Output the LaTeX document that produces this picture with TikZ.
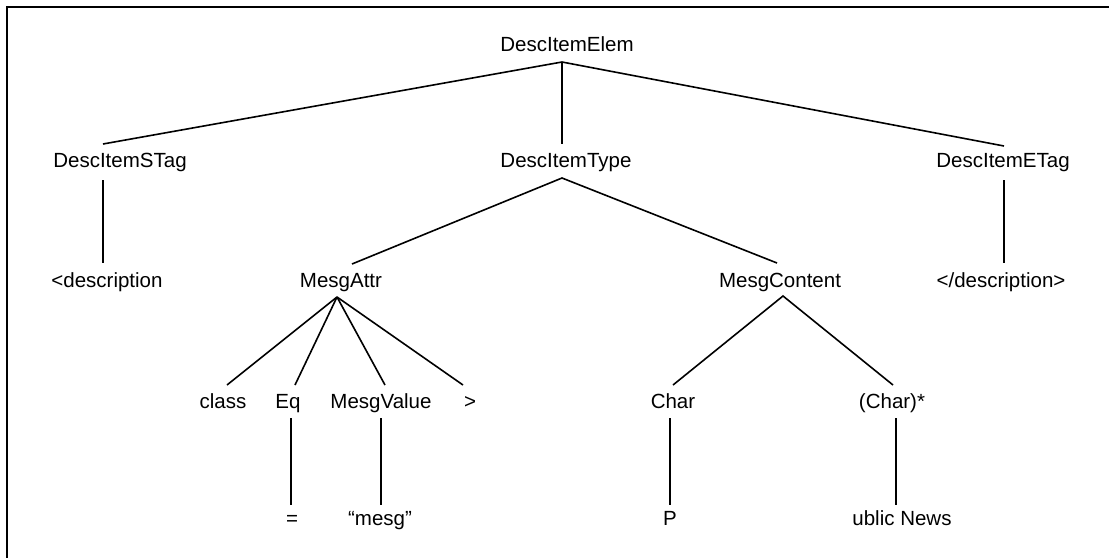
\documentclass[tikz,border=0pt]{standalone}
\usepackage{fontspec}
\setmainfont{Liberation Sans}
\begin{document}
\begin{tikzpicture}[x=1pt,y=-1pt,
  lbl/.style={anchor=base,inner sep=0pt,font=\fontsize{20.5}{24}\selectfont},
  edge/.style={line width=1.6pt,line cap=butt},
  frame/.style={line width=2.4pt}]
\useasboundingbox (0,0) rectangle (1109,558);

% open frame: top and left sides only
\coordinate (fTR) at (1109,7);
\coordinate (fTL) at (7,7);
\coordinate (fBL) at (7,558);
\draw[frame] (fTR) -- (fTL) -- (fBL);

% labels (positioned on their baselines)
\node[lbl] (root)    at (567,51)  {DescItemElem};
\node[lbl] (stag)    at (120,167) {DescItemSTag};
\node[lbl] (type)    at (566,167) {DescItemType};
\node[lbl] (etag)    at (1003,167) {DescItemETag};
\node[lbl] (sdesc)   at (107,287) {<description};
\node[lbl] (attr)    at (341,287) {MesgAttr};
\node[lbl] (content) at (780,287) {MesgContent};
\node[lbl] (edesc)   at (1001,287) {</description>};
\node[lbl] (cls)     at (223,408) {class};
\node[lbl] (eq)      at (288,408) {Eq};
\node[lbl] (mval)    at (381,408) {MesgValue};
\node[lbl] (gt)      at (470,408) {>};
\node[lbl] (chr)     at (673,408) {Char};
\node[lbl] (chrs)    at (892,408) {(Char)*};
\node[lbl] (eqv)     at (292,525) {=};
\node[lbl] (mstr)    at (380,525) {“mesg”};
\node[lbl] (pch)     at (670,525) {P};
\node[lbl] (rest)    at (902,525) {ublic News};

% attachment points of the branches
\coordinate (root-b)    at (562,62);
\coordinate (stag-t)    at (103,144);
\coordinate (type-t)    at (562,144);
\coordinate (etag-t)    at (1004,146);
\coordinate (stag-b)    at (103,180);
\coordinate (sdesc-t)   at (103,263);
\coordinate (etag-b)    at (1004,180);
\coordinate (edesc-t)   at (1004,263);
\coordinate (type-b)    at (562,178);
\coordinate (attr-t)    at (352,264);
\coordinate (content-t) at (777,263);
\coordinate (attr-b)    at (337,297);
\coordinate (cls-t)     at (227,385);
\coordinate (eq-t)      at (295,385);
\coordinate (mval-t)    at (385,385);
\coordinate (gt-t)      at (463,385);
\coordinate (content-b) at (783,296);
\coordinate (chr-t)     at (673,385);
\coordinate (chrs-t)    at (893,385);
\coordinate (eq-b)      at (291,418);
\coordinate (eqv-t)     at (291,505);
\coordinate (mval-b)    at (381,418);
\coordinate (mstr-t)    at (381,505);
\coordinate (chr-b)     at (670,418);
\coordinate (pch-t)     at (670,505);
\coordinate (chrs-b)    at (896,418);
\coordinate (rest-t)    at (896,505);

% branches
\draw[edge] (stag-t) -- (root-b) -- (etag-t);
\draw[edge] (root-b) -- (type-t);
\draw[edge] (stag-b) -- (sdesc-t);
\draw[edge] (etag-b) -- (edesc-t);
\draw[edge] (attr-t) -- (type-b) -- (content-t);
\draw[edge] (attr-b) -- (cls-t);
\draw[edge] (attr-b) -- (eq-t);
\draw[edge] (attr-b) -- (mval-t);
\draw[edge] (attr-b) -- (gt-t);
\draw[edge] (chr-t) -- (content-b) -- (chrs-t);
\draw[edge] (eq-b) -- (eqv-t);
\draw[edge] (mval-b) -- (mstr-t);
\draw[edge] (chr-b) -- (pch-t);
\draw[edge] (chrs-b) -- (rest-t);
\end{tikzpicture}
\end{document}
